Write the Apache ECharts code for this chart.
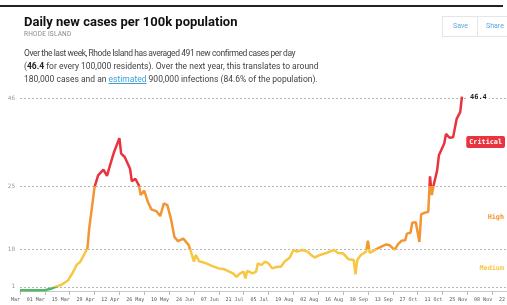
<!DOCTYPE html>
<html>
<head>
<meta charset="utf-8">
<script src="https://cdn.jsdelivr.net/npm/echarts@6/dist/echarts.min.js"></script>
<style>
body { margin: 0; background: #fff; font-family: Roboto, "Open Sans", sans-serif; }
#chart { position: absolute; left: 0; top: 0; width: 507px; height: 305px; }
.topline { position: absolute; left: 0; top: 5px; width: 503px; height: 1.5px; background: #222; }
.title { position: absolute; left: 24px; top: 14.5px; font-size: 13px; line-height: 13px; font-weight: bold; color: #111; white-space: nowrap; }
.place { position: absolute; left: 24px; top: 31.4px; font-size: 6.5px; line-height: 6.5px; color: #888; letter-spacing: 0.2px; }
.blurb { position: absolute; left: 24px; top: 47px; font-size: 8.5px; line-height: 12.8px; color: #444; white-space: nowrap; }
.blurb b { color: #222; }
.blurb a { color: #3a9fd8; text-decoration: underline; }
.blurb .l1 { letter-spacing: -0.42px; }
.btns { position: absolute; left: 442px; top: 16px; width: 70px; height: 21px; border: 1px solid #e6e6e6; box-sizing: border-box; }
.btns span { position: absolute; top: 0; line-height: 19px; font-size: 7px; color: #5aa9e0; }
.btns .sep { position: absolute; left: 34px; top: 0; width: 1px; height: 19px; background: #e6e6e6; }
</style>
</head>
<body>
<div id="chart"></div>
<div class="topline"></div>
<div class="title">Daily new cases per 100k population</div>
<div class="place">RHODE ISLAND</div>
<div class="blurb"><span class="l1">Over the last week, Rhode Island has averaged 491 new confirmed cases per day</span><br>(<b>46.4</b> for every 100,000 residents). Over the next year, this translates to around<br>180,000 cases and an <a>estimated</a> 900,000 infections (84.6% of the population).</div>
<div class="btns"><span style="left:10px">Save</span><div class="sep"></div><span style="left:43px">Share</span></div>
<script>
// day index (0 = first tick) and 7-day average new cases per 100k
var days = [0, 14, 18, 20, 23, 27, 30, 32, 34, 37, 38, 39, 42, 44, 47, 49, 51, 53, 56, 57,
  59, 62, 63, 65, 67, 68, 70, 72, 74, 77, 79, 81, 83, 84, 85, 87, 89, 92, 95, 96,
  98, 99, 101, 105, 108, 112, 115, 117, 120, 122, 124, 126, 127, 128, 131, 133, 134, 136, 138, 140,
  142, 145, 147, 149, 152, 154, 156, 159, 162, 164, 166, 169, 172, 175, 177, 179, 182, 185, 188, 189,
  190, 192, 195, 196, 197, 200, 203, 206, 208, 211, 213, 215, 217, 218, 220, 221, 223, 224, 225, 226,
  228, 230, 231, 232, 233, 235, 236, 237, 239, 240, 241, 242, 244, 245, 246, 247, 248, 249];
var perCapita = [0.2, 0.2, 0.6, 1.0, 1.4, 2.5, 4.6, 6.3, 7.0, 9.4, 10.2, 15.0, 24.8, 27.6, 29.0, 27.5, 30.4, 33.2, 36.5, 32.8,
  32.0, 29.2, 26.2, 26.8, 25.2, 22.9, 24.0, 21.3, 19.5, 19.0, 17.9, 20.9, 20.5, 20.1, 17.3, 12.9, 11.9, 12.5, 11.0, 9.8,
  7.0, 8.6, 7.1, 6.6, 6.0, 5.4, 5.2, 4.8, 4.2, 3.4, 4.2, 4.6, 3.0, 4.8, 4.2, 4.6, 6.6, 6.2, 7.0, 6.6,
  5.4, 5.8, 5.8, 7.0, 8.0, 9.8, 9.4, 9.8, 9.4, 8.6, 8.0, 8.6, 9.0, 9.5, 9.8, 9.1, 9.0, 7.6, 7.4, 4.0,
  7.4, 8.6, 9.4, 12.0, 9.1, 9.8, 10.5, 11.1, 11.0, 9.8, 11.2, 12.0, 12.1, 13.7, 13.9, 16.3, 16.4, 16.4, 11.7, 18.3,
  18.7, 18.9, 27.4, 22.9, 25.2, 28.8, 32.4, 32.6, 35.2, 37.5, 37.8, 36.6, 36.7, 36.9, 41.1, 41.5, 42.7, 46.4];
var tickLabels = ['Mar', '01 Mar', '15 Mar', '29 Apr', '12 Apr', '26 May', '10 May', '24 Jun', '07 Jun', '21 Jul',
  '05 Jul', '19 Aug', '02 Aug', '16 Aug', '30 Sep', '13 Sep', '27 Oct', '11 Oct', '25 Nov', '08 Nov', '22 Nov'];
var guideValues = [1, 10, 25, 46];
var levelNames = ['Critical', 'High', 'Medium'];

var GREEN = '#52b868', YELLOW = '#f7c643', ORANGE = '#f29532', RED = '#e8343f';
var MONO = '"DejaVu Sans Mono", monospace';

var chart = echarts.init(document.getElementById('chart'));
var option = {
  animation: false,
  grid: { left: 20, width: 497, top: 90, bottom: 14, containLabel: false, outerBoundsMode: 'none' },
  xAxis: {
    type: 'value',
    min: 0,
    max: 280,
    interval: 14,
    splitLine: { show: false },
    axisLine: { lineStyle: { color: '#c8c8c8' } },
    axisTick: { length: 4, lineStyle: { color: '#bbb' } },
    axisLabel: {
      align: 'right',
      margin: 6,
      fontSize: 5,
      fontFamily: MONO,
      color: '#555',
      showMinLabel: true,
      showMaxLabel: true,
      formatter: function (v) { return tickLabels[Math.round(v / 14)] || ''; }
    }
  },
  yAxis: {
    type: 'value',
    min: 0,
    max: 48,
    splitLine: { show: false },
    axisLine: { show: false },
    axisTick: { show: false },
    axisLabel: { customValues: guideValues, margin: 5, fontSize: 6, fontFamily: MONO, color: '#999' }
  },
  visualMap: {
    type: 'piecewise',
    show: false,
    dimension: 1,
    seriesIndex: 0,
    pieces: [
      { lt: 1, color: GREEN },
      { gte: 1, lt: 10, color: YELLOW },
      { gte: 10, lt: 25, color: ORANGE },
      { gte: 25, color: RED }
    ]
  },
  series: [{
    type: 'line',
    showSymbol: false,
    clip: false,
    lineStyle: { width: 2.5 },
    data: days.map(function (d, i) { return [d, perCapita[i]]; }),
    endLabel: {
      show: true,
      distance: 6,
      formatter: function (p) { return p.value[1].toFixed(1); },
      color: '#222',
      fontWeight: 'bold',
      fontSize: 7,
      fontFamily: MONO,
      backgroundColor: '#fff',
      padding: [1, 2]
    },
    markLine: {
      silent: true,
      symbol: 'none',
      label: { show: false },
      lineStyle: { color: '#b5b5b5', type: [2, 2], width: 1 },
      data: guideValues.map(function (v) { return { yAxis: v }; }),
      z: 1
    },
    z: 3
  }],
  graphic: [
    { type: 'text', right: 2, top: 136, z: 10,
      style: { text: levelNames[0], fill: '#fff', backgroundColor: RED, padding: [3, 3, 2, 3], borderRadius: 2,
        font: 'bold 6.8px ' + MONO } },
    { type: 'text', right: 3, top: 214, z: 10,
      style: { text: levelNames[1], fill: ORANGE, font: 'bold 6.8px ' + MONO } },
    { type: 'text', right: 3, top: 265, z: 10,
      style: { text: levelNames[2], fill: YELLOW, font: 'bold 6.8px ' + MONO } }
  ]
};
chart.setOption(option);
</script>
</body>
</html>
